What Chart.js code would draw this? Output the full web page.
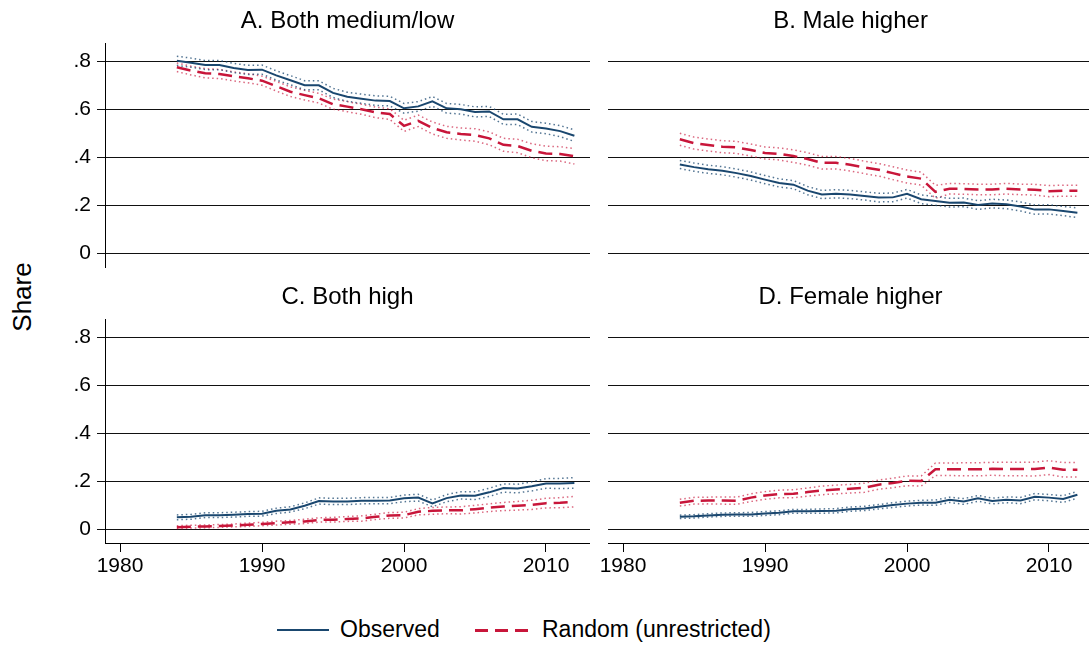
<!DOCTYPE html>
<html>
<head>
<meta charset="utf-8">
<script src="https://cdn.jsdelivr.net/npm/chart.js@4.4.1/dist/chart.umd.min.js"></script>
<style>
  html, body { margin: 0; padding: 0; background: #fff; }
  body { width: 1089px; height: 646px; overflow: hidden; position: relative; font-family: "Liberation Sans", Arial, sans-serif; }
  canvas { position: absolute; }
  #ytitle { position: absolute; left: 22px; top: 297px; transform: translate(-50%, -50%) rotate(-90deg); font-size: 26px; color: #000; white-space: nowrap; }
  .legend { position: absolute; top: 615px; font-size: 23px; color: #000; white-space: nowrap; line-height: 28px; }
  .key { position: absolute; height: 2px; top: 629px; }
</style>
</head>
<body>
<canvas id="panelA" width="550" height="270" style="left:40px;top:0px"></canvas>
<canvas id="panelB" width="525" height="270" style="left:568px;top:0px"></canvas>
<canvas id="panelC" width="550" height="307" style="left:40px;top:276px"></canvas>
<canvas id="panelD" width="525" height="307" style="left:568px;top:276px"></canvas>
<div id="ytitle">Share</div>
<div class="key" style="left:277px;width:52px;background:#1a476f;"></div>
<div class="legend" style="left:340px;">Observed</div>
<div class="key" style="left:475px;width:53px;height:2.5px;background:repeating-linear-gradient(90deg,#c8163a 0 13px,transparent 13px 20px);"></div>
<div class="legend" style="left:542px;">Random (unrestricted)</div>
<script>
// Years and axis ticks
const years = [1984,1985,1986,1987,1988,1989,1990,1991,1992,1993,1994,1995,1996,1997,1998,1999,2000,2001,2002,2003,2004,2005,2006,2007,2008,2009,2010,2011,2012];
const xTicks = [1980, 1990, 2000, 2010];
const yTicks = [0, 0.2, 0.4, 0.6, 0.8];

// A. Both medium/low
const obsA   = [.801,.793,.783,.783,.771,.763,.764,.740,.720,.699,.699,.667,.651,.643,.635,.633,.603,.611,.632,.603,.599,.588,.590,.557,.557,.526,.519,.508,.489];
const obsAHi = [.820,.812,.802,.802,.790,.782,.783,.759,.739,.718,.718,.686,.670,.662,.655,.653,.623,.631,.652,.623,.619,.609,.611,.578,.579,.548,.541,.531,.513];
const obsALo = [.782,.774,.764,.764,.752,.744,.745,.721,.701,.680,.680,.648,.632,.624,.615,.613,.583,.591,.612,.583,.579,.567,.569,.536,.535,.504,.497,.485,.465];
const rndA   = [.774,.760,.749,.746,.736,.728,.718,.695,.672,.658,.645,.620,.610,.599,.586,.579,.530,.551,.521,.503,.496,.492,.478,.451,.446,.426,.415,.413,.403];
const rndAHi = [.792,.778,.768,.765,.755,.747,.737,.715,.692,.678,.665,.641,.631,.620,.608,.601,.553,.575,.546,.528,.521,.518,.505,.478,.474,.455,.445,.443,.435];
const rndALo = [.756,.742,.730,.727,.717,.709,.699,.675,.652,.638,.625,.599,.589,.578,.564,.557,.507,.527,.496,.478,.471,.466,.451,.424,.418,.397,.385,.383,.371];

// B. Male higher
const obsB   = [.369,.358,.349,.343,.333,.321,.306,.292,.285,.260,.244,.247,.244,.238,.231,.232,.247,.224,.217,.210,.211,.200,.206,.203,.194,.181,.182,.175,.168];
const obsBHi = [.386,.375,.366,.360,.350,.338,.323,.309,.302,.277,.261,.264,.261,.255,.249,.250,.265,.242,.235,.228,.229,.218,.224,.221,.213,.200,.201,.194,.188];
const obsBLo = [.352,.341,.332,.326,.316,.304,.289,.275,.268,.243,.227,.230,.227,.221,.213,.214,.229,.206,.199,.192,.193,.182,.188,.185,.175,.162,.163,.156,.148];
const rndB   = [.474,.458,.450,.443,.440,.429,.417,.413,.404,.392,.376,.376,.368,.357,.347,.333,.319,.310,.255,.268,.267,.265,.265,.268,.265,.264,.258,.260,.260];
const rndBHi = [.499,.483,.475,.468,.465,.454,.442,.438,.430,.418,.402,.402,.394,.383,.373,.360,.346,.337,.282,.290,.289,.287,.287,.290,.287,.286,.281,.283,.283];
const rndBLo = [.449,.433,.425,.418,.415,.404,.392,.388,.378,.366,.350,.350,.342,.331,.321,.306,.292,.283,.228,.246,.245,.243,.243,.246,.243,.242,.235,.237,.237];

// C. Both high
const obsC   = [.049,.051,.058,.058,.060,.063,.064,.076,.082,.097,.117,.115,.115,.118,.118,.119,.128,.131,.107,.129,.140,.139,.153,.171,.169,.178,.190,.190,.192];
const obsCHi = [.059,.061,.068,.068,.070,.073,.074,.087,.093,.109,.130,.128,.128,.131,.131,.132,.142,.145,.121,.144,.155,.155,.170,.188,.187,.197,.210,.211,.214];
const obsCLo = [.039,.041,.048,.048,.050,.053,.054,.065,.071,.085,.104,.102,.102,.105,.105,.106,.114,.117,.093,.114,.125,.123,.136,.154,.151,.159,.170,.169,.170];
const rndC   = [.008,.010,.011,.013,.015,.018,.021,.025,.028,.032,.038,.039,.042,.044,.051,.057,.058,.072,.076,.078,.078,.083,.089,.094,.097,.101,.108,.110,.114];
const rndCHi = [.014,.016,.017,.019,.021,.025,.028,.033,.036,.041,.047,.049,.052,.055,.062,.069,.070,.085,.090,.092,.093,.099,.105,.111,.115,.120,.128,.131,.136];
const rndCLo = [.002,.004,.005,.007,.009,.011,.014,.017,.020,.023,.029,.029,.032,.033,.040,.045,.046,.059,.062,.064,.063,.067,.073,.077,.079,.082,.088,.089,.092];

// D. Female higher
const obsD   = [.051,.053,.057,.060,.061,.061,.065,.068,.074,.074,.075,.076,.083,.086,.093,.100,.106,.110,.110,.122,.115,.128,.117,.122,.119,.135,.131,.125,.143];
const obsDHi = [.058,.060,.064,.067,.068,.069,.073,.076,.082,.082,.084,.085,.092,.095,.102,.110,.116,.120,.121,.133,.127,.140,.129,.134,.132,.148,.144,.139,.157];
const obsDLo = [.044,.046,.050,.053,.054,.053,.057,.060,.066,.066,.066,.067,.074,.077,.084,.090,.096,.100,.099,.111,.103,.116,.105,.110,.106,.122,.118,.111,.129];
const rndD   = [.110,.118,.119,.119,.118,.131,.140,.146,.147,.154,.161,.165,.168,.172,.185,.192,.201,.200,.249,.249,.249,.249,.251,.250,.250,.250,.256,.247,.247];
const rndDHi = [.124,.132,.133,.134,.133,.147,.156,.162,.164,.171,.179,.183,.186,.191,.204,.212,.221,.221,.275,.275,.276,.276,.278,.278,.278,.279,.285,.277,.277];
const rndDLo = [.096,.104,.105,.104,.103,.115,.124,.130,.130,.137,.143,.147,.150,.153,.166,.172,.181,.179,.223,.223,.222,.222,.224,.222,.222,.221,.227,.217,.217];

const NAVY = '#1a476f';
const RED = '#c8163a';
const FONT = '"Liberation Sans", Arial, sans-serif';

function toPoints(values) {
  return years.map((yr, i) => ({ x: yr, y: values[i] }));
}

function mainLine(values, color, dash) {
  return { data: toPoints(values), borderColor: color, borderWidth: dash ? 2.5 : 2,
           borderDash: dash ? [14, 7] : [], pointRadius: 0, tension: 0, fill: false };
}

function bandLine(values, color) {
  return { data: toPoints(values), borderColor: color, borderWidth: 1.5,
           borderDash: [1.5, 3], pointRadius: 0, tension: 0, fill: false };
}

function tickLabel(v) {
  if (v === 0) return '0';
  return String(Math.round(v * 10) / 10).replace(/^0\./, '.');
}

// build one of the four panels
// left panels get a 65px y axis with labels, right panels an empty 40px gutter
function createPanel(id, title, series, leftAxis, bottomAxis) {
  const datasets = [
    mainLine(series[0], NAVY, false),
    mainLine(series[3], RED, true),
    bandLine(series[1], 'rgba(26,71,111,0.75)'),
    bandLine(series[2], 'rgba(26,71,111,0.75)'),
    bandLine(series[4], 'rgba(200,22,58,0.65)'),
    bandLine(series[5], 'rgba(200,22,58,0.65)')
  ];

  new Chart(document.getElementById(id), {
    type: 'line',
    data: { datasets: datasets },
    options: {
      responsive: false,
      animation: false,
      devicePixelRatio: 1,
      layout: { padding: { top: 0, right: 0, bottom: bottomAxis ? 0 : 3, left: 0 } },
      plugins: {
        legend: { display: false },
        tooltip: { enabled: false },
        title: {
          display: true,
          fullSize: false,
          text: title,
          color: '#000',
          font: { size: 24, family: FONT, weight: 'normal' },
          padding: { top: 7, bottom: 7.2 }
        }
      },
      scales: {
        x: {
          type: 'linear',
          display: bottomAxis,
          min: 1978.94,
          max: 2013.1,
          afterBuildTicks: scale => { scale.ticks = xTicks.map(v => ({ value: v })); },
          afterFit: scale => {
            scale.height = bottomAxis ? 40 : 0;
            scale.paddingLeft = 0;
            scale.paddingRight = 0;
          },
          grid: { drawOnChartArea: false, drawTicks: true, tickLength: 9, color: '#000', lineWidth: 1 },
          border: { display: true, color: '#000', width: 1 },
          ticks: { color: '#000', padding: 2, maxRotation: 0, font: { size: 21, family: FONT },
                   callback: v => String(v) }
        },
        y: {
          min: -0.058,
          max: 0.875,
          afterBuildTicks: scale => { scale.ticks = yTicks.map(v => ({ value: v })); },
          afterFit: scale => {
            scale.width = leftAxis ? 65 : 40;
            scale.paddingTop = 0;
            scale.paddingBottom = 0;
          },
          grid: { color: '#111', lineWidth: 1, drawTicks: leftAxis, tickLength: 8 },
          border: { display: leftAxis, color: '#000', width: 1 },
          ticks: { display: leftAxis, color: '#000', padding: 6, font: { size: 21, family: FONT },
                   callback: v => tickLabel(v) }
        }
      }
    }
  });
}

createPanel('panelA', 'A. Both medium/low', [obsA, obsAHi, obsALo, rndA, rndAHi, rndALo], true, false);
createPanel('panelB', 'B. Male higher', [obsB, obsBHi, obsBLo, rndB, rndBHi, rndBLo], false, false);
createPanel('panelC', 'C. Both high', [obsC, obsCHi, obsCLo, rndC, rndCHi, rndCLo], true, true);
createPanel('panelD', 'D. Female higher', [obsD, obsDHi, obsDLo, rndD, rndDHi, rndDLo], false, true);
</script>
</body>
</html>
